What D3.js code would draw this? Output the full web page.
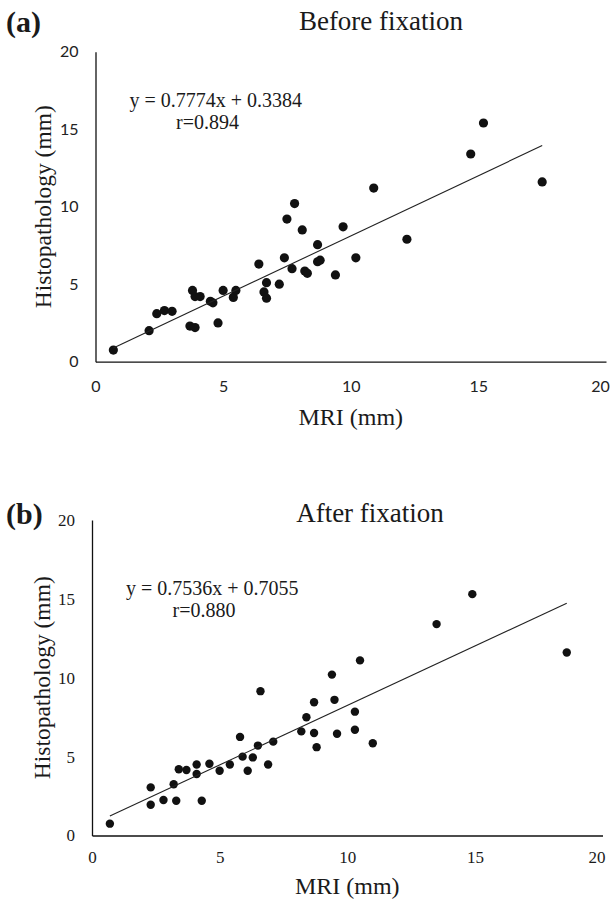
<!DOCTYPE html>
<html>
<head>
<meta charset="utf-8">
<script src="https://cdn.jsdelivr.net/npm/d3@7"></script>
<style>
  body { margin: 0; background: #fff; }
  .serif { font-family: "Liberation Serif", "Times New Roman", serif; fill: #1a1a1a; }
  .sans { font-family: Lato, "Open Sans", sans-serif; fill: #222; }
</style>
</head>
<body>
<div class="render"></div>
<script>
'use strict';

// panel (a) - before fixation
var mriA = [0.7, 2.1, 2.4, 2.7, 3.0, 3.7, 3.9, 3.8, 3.9, 4.1, 4.5, 4.6, 4.8, 5.0, 5.4, 5.5, 6.4, 6.6, 6.7, 6.7,
  7.2, 7.4, 7.7, 7.5, 7.8, 8.1, 8.2, 8.3, 8.7, 8.7, 8.8, 9.4, 9.7, 10.2, 10.9, 12.2, 14.7, 15.2, 17.5];
var histA = [0.75, 2.0, 3.1, 3.3, 3.25, 2.3, 2.2, 4.6, 4.2, 4.2, 3.9, 3.8, 2.5, 4.6, 4.15, 4.6, 6.3, 4.5, 5.1, 4.1,
  5.0, 6.7, 6.0, 9.2, 10.2, 8.5, 5.85, 5.7, 7.55, 6.45, 6.55, 5.6, 8.7, 6.7, 11.2, 7.9, 13.4, 15.4, 11.6];

// panel (b) - after fixation
var mriB = [0.7, 2.3, 2.3, 2.8, 3.2, 3.3, 3.4, 3.7, 4.1, 4.1, 4.3, 4.6, 5.0, 5.4, 5.8, 5.9, 6.1, 6.3, 6.5, 6.6,
  6.9, 7.1, 8.2, 8.4, 8.7, 8.7, 8.8, 9.4, 9.5, 9.6, 10.3, 10.3, 10.5, 11.0, 13.5, 14.9, 18.6];
var histB = [0.75, 3.05, 1.95, 2.25, 3.25, 2.2, 4.2, 4.15, 4.5, 3.9, 2.2, 4.55, 4.1, 4.5, 6.25, 5.0, 4.1, 4.95, 5.7, 9.15,
  4.5, 5.95, 6.6, 7.5, 6.5, 8.45, 5.6, 10.2, 8.6, 6.45, 7.85, 6.7, 11.1, 5.85, 13.4, 15.3, 11.6];

var ticks = [0, 5, 10, 15, 20];
var slopes = [0.7774, 0.7536];
var intercepts = [0.3384, 0.7055];
var equations = ['y = 0.7774x + 0.3384', 'y = 0.7536x + 0.7055'];
var rValues = ['r=0.894', 'r=0.880'];
var titles = ['Before fixation', 'After fixation'];
var panelTags = ['(a)', '(b)'];

var svg = d3.select('.render').append('svg').attr('width', 614).attr('height', 901);

function panel(i, xs, ys, box, tickClass, tickSize, tickDy) {
  var x = d3.scaleLinear().domain([0, 20]).range([box.left, box.right]);
  var y = d3.scaleLinear().domain([0, 20]).range([box.bottom, box.top]);
  var g = svg.append('g');

  var xAxis = d3.axisBottom(x).tickValues(ticks).tickSize(0).tickPadding(tickDy).tickFormat(d3.format('d'));
  var yAxis = d3.axisLeft(y).tickValues(ticks).tickSize(0).tickPadding(box.ypad).tickFormat(d3.format('d'));

  var gx = g.append('g').attr('transform', 'translate(0,' + box.bottom + ')').call(xAxis);
  var gy = g.append('g').attr('transform', 'translate(' + box.left + ',0)').call(yAxis);
  [gx, gy].forEach(function (a) {
    a.select('.domain').attr('stroke', '#111').attr('stroke-width', 1.3);
    a.selectAll('text').attr('class', tickClass).style('font-size', tickSize + 'px').attr('fill', '#222');
  });
  // keep the last x label inside the page
  gx.selectAll('text').filter(function (d) { return d === 20; }).attr('dx', -6);

  var pts = xs.map(function (d, k) { return [d, ys[k]]; });
  g.selectAll('circle').data(pts).enter().append('circle')
    .attr('cx', function (d) { return x(d[0]); })
    .attr('cy', function (d) { return y(d[1]); })
    .attr('r', box.r).attr('fill', '#111');

  var x0 = d3.min(xs), x1 = d3.max(xs);
  g.append('line')
    .attr('x1', x(x0)).attr('y1', y(slopes[i] * x0 + intercepts[i]))
    .attr('x2', x(x1)).attr('y2', y(slopes[i] * x1 + intercepts[i]))
    .attr('stroke', '#222').attr('stroke-width', 1.1);

  g.append('text').attr('class', 'serif').text(equations[i])
    .attr('x', box.left + 34).attr('y', box.eqY).style('font-size', '20px');
  g.append('text').attr('class', 'serif').text(rValues[i])
    .attr('x', box.left + 112).attr('y', box.eqY + 22).attr('text-anchor', 'middle').style('font-size', '20px');

  g.append('text').attr('class', 'serif').text(titles[i])
    .attr('x', box.titleX).attr('y', box.titleY).attr('text-anchor', 'middle').style('font-size', '27px');
  g.append('text').attr('class', 'serif').text(panelTags[i])
    .attr('x', 6).attr('y', box.titleY + 2).style('font-size', '30px').style('font-weight', 'bold');

  g.append('text').attr('class', 'serif').text('MRI (mm)')
    .attr('x', (box.left + box.right) / 2).attr('y', box.bottom + box.xtY)
    .attr('text-anchor', 'middle').style('font-size', '24px');
  g.append('text').attr('class', 'serif').text('Histopathology (mm)')
    .attr('transform', 'translate(' + box.ytX + ',' + (box.top + box.bottom) / 2 + ')rotate(-90)')
    .attr('text-anchor', 'middle').attr('dy', '0.35em').style('font-size', '23.5px');
}

panel(0, mriA, histA, {left: 95.5, right: 606, top: 51.7, bottom: 361.7, ypad: 17, r: 4.6,
  eqY: 107, titleX: 381, titleY: 30, xtY: 63, ytX: 43}, 'sans', 16, 19);
panel(1, mriB, histB, {left: 92, right: 602.5, top: 520, bottom: 835.5, ypad: 17, r: 4.2,
  eqY: 595, titleX: 370, titleY: 522, xtY: 58, ytX: 42}, 'serif', 17, 15);
</script>
</body>
</html>
